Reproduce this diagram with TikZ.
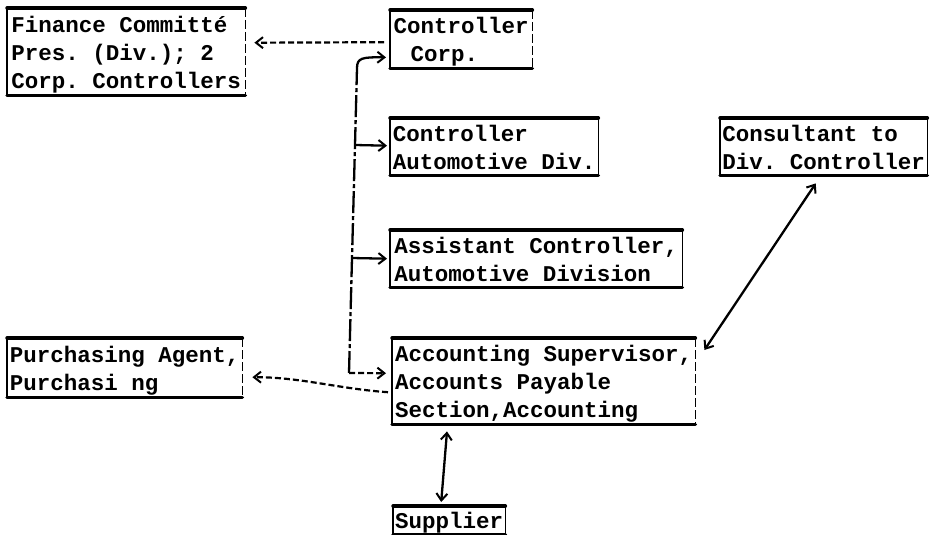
\documentclass[tikz,border=0pt]{standalone}
\usepackage{fontspec}
\setmonofont{Liberation Mono}
\usetikzlibrary{arrows.meta,calc}
% strut that fixes every typed line to the same height and depth
\newcommand\lnst{\rule[-5.4pt]{0pt}{28pt}}

\begin{document}
\begin{tikzpicture}[x=1pt,y=-1pt,
  box/.style={inner sep=0pt, align=left, anchor=north west,
    font=\ttfamily\bfseries\fontsize{22.5}{28}\selectfont},
  edgeH/.style={line width=3.4pt, line cap=round},
  edgeV/.style={line width=1.8pt},
  edgeVd/.style={line width=1.8pt, dash pattern=on 9pt off 3pt},
  conn/.style={line width=2.3pt},
  trunk/.style={line width=2.3pt, dash pattern=on 22pt off 3pt on 4pt off 3pt},
  dashline/.style={line width=2.2pt, dash pattern=on 6pt off 3pt},
  tip/.style={-{Straight Barb[length=7pt,width=11pt,line width=2pt]}},
  bitip/.style={{Straight Barb[length=7pt,width=11pt,line width=2pt]}-{Straight Barb[length=7pt,width=11pt,line width=2pt]}}]

\useasboundingbox[fill=white] (0,0) rectangle (931,535);

% boxes
\node[box, minimum width=238pt, minimum height=87pt] (fin) at (7,8)
  {\lnst Finance Committé\\\lnst Pres. (Div.); 2\\\lnst Corp. Controllers};
\node[box, minimum width=142pt, minimum height=58pt] (ctl) at (390,10)
  {\lnst Controller\\\lnst\hspace*{17pt}Corp.};
\node[box, minimum width=208pt, minimum height=57pt] (auto) at (390,118)
  {\lnst Controller\\\lnst Automotive Div.};
\node[box, minimum width=207pt, minimum height=57pt] (cons) at (720,118)
  {\lnst Consultant to\\\lnst Div. Controller};
\node[box, minimum width=292pt, minimum height=57pt] (asst) at (390,230)
  {\lnst Assistant Controller,\\\lnst Automotive Division};
\node[box, minimum width=235pt, minimum height=59pt] (purch) at (7,338)
  {\lnst Purchasing Agent,\\\lnst Purchasi ng};
\node[box, minimum width=303pt, minimum height=86pt] (acct) at (392,338)
  {\lnst Accounting Supervisor,\\\lnst Accounts Payable\\\lnst Section,Accounting};
\node[box, minimum width=112pt, minimum height=28pt] (supp) at (393,506)
  {\lnst Supplier};

% typed frames: heavy rules above and below, light rules at the sides
\foreach \n/\rs in {fin/edgeVd, ctl/edgeVd, auto/edgeV, cons/edgeV,
                    asst/edgeV, purch/edgeVd, acct/edgeVd, supp/edgeV} {
  \draw[edgeH] (\n.north west) -- (\n.north east);
  \draw[edgeH] (\n.south west) -- (\n.south east);
  \draw[edgeV] (\n.north west) -- (\n.south west);
  \draw[\rs] (\n.north east) -- (\n.south east);
}

% corporate controller reports to the finance committee
\draw[dashline, tip] ($(ctl.west)+(-6,3)$) -- ($(fin.east)+(9,-9)$);

% distribution line down the middle
\coordinate (tk1) at (357,68);
\coordinate (tkA) at (355,145);
\coordinate (tkB) at (352,258);
\coordinate (tkC) at (349,373);
\draw[trunk] (tkC) -- (tkB) -- (tkA) -- (tk1);
\draw[conn, tip] (tk1) .. controls (357,58) and (362,57) .. ($(ctl.south west)+(-4,-11)$);
\draw[conn, tip] (tkA) -- ($(auto.west)+(-3,-1)$);
\draw[conn, tip] (tkB) -- ($(asst.west)+(-3,0)$);
\draw[dashline, tip] (tkC) -- ($(acct.west)+(-6,-8)$);

% accounts payable to purchasing
\draw[dashline, tip] ($(acct.west)+(-4,11)$) .. controls (340,389) and (300,377) .. ($(purch.east)+(10,9.5)$);

% two-way links
\draw[conn, bitip] ($(cons.south)+(-8,8)$) -- ($(acct.north east)+(9,12)$);
\draw[conn, bitip] ($(acct.south west)+(55,7)$) -- ($(supp.north)+(-8,-4)$);

\end{tikzpicture}
\end{document}
